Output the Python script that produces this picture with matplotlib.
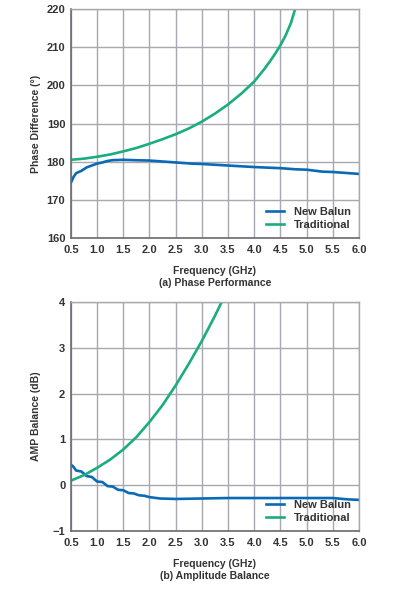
import matplotlib
matplotlib.use('Agg')
import matplotlib.pyplot as plt
import numpy as np

plt.rcParams['font.family'] = ['Liberation Sans', 'DejaVu Sans']

BLUE = '#0a6ab6'
GREEN = '#1aad7e'
TEXT = '#333333'
GRID = '#a8a8b0'

# ------------------------------------------------------------------
#  Data
# ------------------------------------------------------------------
phase_new_freq = [0.5, 0.55, 0.6, 0.7, 0.8, 0.9, 1.0, 1.1, 1.2, 1.3, 1.5,
                  1.7, 2.0, 2.2, 2.5, 2.8, 3.0, 3.5, 4.0, 4.5, 4.8, 5.0,
                  5.3, 5.5, 5.7, 6.0]
phase_new = [174.5, 176.0, 177.0, 177.6, 178.5, 179.0, 179.5, 179.8, 180.2,
             180.4, 180.5, 180.4, 180.3, 180.1, 179.8, 179.5, 179.4, 179.0,
             178.6, 178.3, 178.0, 177.9, 177.4, 177.3, 177.1, 176.8]

phase_trad_freq = [0.5, 0.75, 1.0, 1.25, 1.5, 1.75, 2.0, 2.25, 2.5, 2.75,
                   3.0, 3.25, 3.5, 3.75, 4.0, 4.1, 4.2, 4.3, 4.4, 4.5, 4.6,
                   4.7, 4.76, 4.8]
phase_trad = [180.5, 180.8, 181.3, 181.9, 182.7, 183.6, 184.7, 185.9, 187.2,
              188.7, 190.5, 192.6, 195.0, 197.8, 201.0, 202.7, 204.4, 206.3,
              208.3, 210.5, 213.1, 216.3, 219.0, 221.0]

amp_new_freq = [0.5, 0.55, 0.6, 0.7, 0.8, 0.9, 1.0, 1.1, 1.2, 1.3, 1.4, 1.5,
                1.6, 1.7, 1.8, 1.9, 2.0, 2.2, 2.5, 3.0, 3.5, 4.0, 4.5, 5.0,
                5.5, 5.8, 6.0]
amp_new = [0.45, 0.40, 0.32, 0.30, 0.20, 0.18, 0.08, 0.07, -0.02, -0.03,
           -0.10, -0.11, -0.17, -0.18, -0.22, -0.23, -0.26, -0.29, -0.30,
           -0.29, -0.28, -0.28, -0.28, -0.28, -0.28, -0.31, -0.32]

amp_trad_freq = [0.5, 0.75, 1.0, 1.25, 1.5, 1.75, 2.0, 2.25, 2.5, 2.75, 3.0,
                 3.25, 3.4]
amp_trad = [0.10, 0.22, 0.38, 0.56, 0.78, 1.05, 1.38, 1.75, 2.18, 2.65,
            3.15, 3.70, 4.05]

x_ticks = [0.5, 1.0, 1.5, 2.0, 2.5, 3.0, 3.5, 4.0, 4.5, 5.0, 5.5, 6.0]
phase_ticks = [160, 170, 180, 190, 200, 210, 220]
amp_ticks = [-1, 0, 1, 2, 3, 4]


def style_axes(ax, yticks, ylabel, caption, ylabels=None):
    ax.set_xlim(0.5, 6.0)
    ax.set_ylim(yticks[0], yticks[-1])
    ax.set_xticks(x_ticks)
    ax.set_xticklabels([f'{t:.1f}' for t in x_ticks])
    ax.set_yticks(yticks)
    if ylabels is not None:
        ax.set_yticklabels(ylabels)
    ax.grid(True, color=GRID, linewidth=1.0)
    ax.set_axisbelow(True)
    ax.tick_params(length=0, labelsize=8, colors=TEXT)
    ax.tick_params(axis='x', pad=5)
    ax.tick_params(axis='y', pad=4)
    for lab in ax.get_xticklabels() + ax.get_yticklabels():
        lab.set_fontweight('bold')
    for side in ['left', 'bottom']:
        ax.spines[side].set_color('#6a6a70')
        ax.spines[side].set_linewidth(1.2)
    for side in ['top', 'right']:
        ax.spines[side].set_color('#a8a8b0')
        ax.spines[side].set_linewidth(1.0)
    ax.set_ylabel(ylabel, fontsize=7.5, fontweight='bold', color=TEXT)
    # same label column in both panels
    ax.yaxis.set_label_coords(-0.105, 0.5)
    ax.set_xlabel('Frequency (GHz)\n' + caption, fontsize=7.5,
                  fontweight='bold', color=TEXT, labelpad=8,
                  linespacing=1.3)
    leg = ax.legend(loc='lower right', frameon=False, fontsize=8,
                    handlelength=1.6, borderaxespad=0.3, labelspacing=0.3,
                    handletextpad=0.9)
    for t in leg.get_texts():
        t.set_fontweight('bold')
        t.set_color(TEXT)


fig = plt.figure(figsize=(3.94, 5.90), dpi=100)
ax1 = fig.add_axes([0.180, 0.5966, 0.731, 0.388])
ax2 = fig.add_axes([0.180, 0.100, 0.731, 0.388])

ax1.plot(phase_new_freq, phase_new, color=BLUE, linewidth=1.9,
         label='New Balun')
ax1.plot(phase_trad_freq, phase_trad, color=GREEN, linewidth=1.9,
         label='Traditional')
style_axes(ax1, phase_ticks, 'Phase Difference (°)',
           '(a) Phase Performance')

ax2.plot(amp_new_freq, amp_new, color=BLUE, linewidth=1.9,
         label='New Balun')
ax2.plot(amp_trad_freq, amp_trad, color=GREEN, linewidth=1.9,
         label='Traditional')
style_axes(ax2, amp_ticks, 'AMP Balance (dB)', '(b) Amplitude Balance',
           ylabels=['\u22121', '0', '1', '2', '3', '4'])

fig.savefig('out.png', dpi=100)
